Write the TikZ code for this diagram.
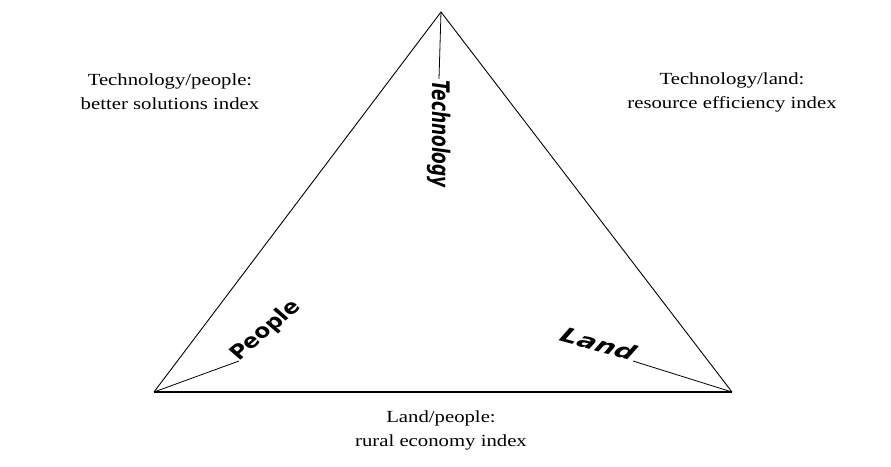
\documentclass[tikz,border=0pt]{standalone}
\usepackage{fontspec}
\setmainfont{Liberation Serif}
\newfontfamily\lblfont{DejaVu Sans}
\begin{document}
\begin{tikzpicture}[x=1pt,y=-1pt,
  idx/.style={font=\fontsize{17}{24}\selectfont, align=center, inner sep=0pt, xscale=1.22},
  vlabel/.style={font=\lblfont\bfseries\itshape\fontsize{17}{17}\selectfont, inner sep=1pt},
  stretch/.style={xscale=1.42, transform shape},
  edge/.style={line width=0.9pt, line join=miter},
  tick/.style={line width=0.8pt}]
\useasboundingbox (0,0) rectangle (891,466);
\coordinate (T) at (441,12);
\coordinate (P) at (154,392);
\coordinate (L) at (732,392);
\draw[edge] (P) -- (T) -- (L);
\draw[line width=1.3pt] (P) -- (L);
\begin{scope}[shift={(239,361)}, stretch]
  \node[vlabel, rotate=50, anchor=base west, font=\lblfont\bfseries\itshape\fontsize{18}{18}\selectfont] (people) at (0,0) {People};
\end{scope}
\begin{scope}[shift={(439,79)}, stretch]
  \node[vlabel, rotate=-90, anchor=west] (tech) at (0,0) {Technology};
\end{scope}
\begin{scope}[shift={(633,361)}, stretch]
  \node[vlabel, rotate=-21, anchor=base east, font=\lblfont\bfseries\itshape\fontsize{20}{20}\selectfont] (land) at (0,0) {Land};
\end{scope}
\draw[tick] (T) -- (tech.west);
\draw[tick] (P) -- (people.base west);
\draw[tick] (L) -- (land.base east);
\node[idx] (tp) at (170,92) {Technology/people:\\better solutions index};
\node[idx] (tl) at (732,92) {Technology/land:\\resource efficiency index};
\node[idx] (lp) at (441,430) {Land/people:\\rural economy index};
\end{tikzpicture}
\end{document}
